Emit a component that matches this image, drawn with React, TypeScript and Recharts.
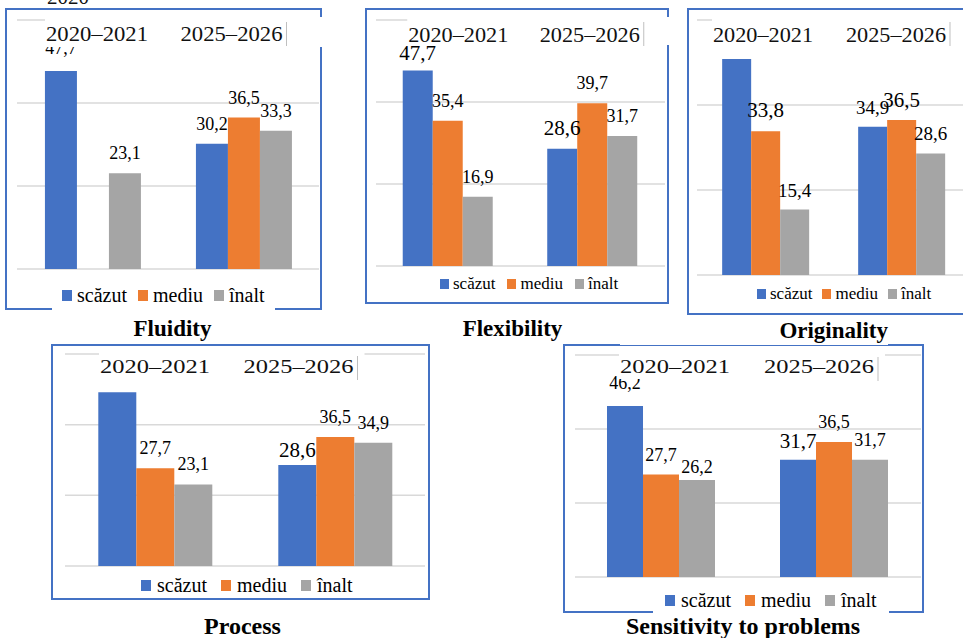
import React from 'react';
import { BarChart, Bar, XAxis, YAxis, CartesianGrid, LabelList, Legend } from 'recharts';

const categories = ['2020–2021', '2025–2026'];
const seriesNames = ['scăzut', 'mediu', 'înalt'];
const seriesKeys = ['scazut', 'mediu', 'inalt'];
const seriesColors = ['#4472C4', '#ED7D31', '#A5A5A5'];
const yTicks = [0, 20, 40, 60];

const fluidityScazut = [47.7, 30.2];
const fluidityMediu = [0, 36.5];
const fluidityInalt = [23.1, 33.3];

const flexibilityScazut = [47.7, 28.6];
const flexibilityMediu = [35.4, 39.7];
const flexibilityInalt = [16.9, 31.7];

const originalityScazut = [50.8, 34.9];
const originalityMediu = [33.8, 36.5];
const originalityInalt = [15.4, 28.6];

const processScazut = [49.2, 28.6];
const processMediu = [27.7, 36.5];
const processInalt = [23.1, 34.9];

const sensitivityScazut = [46.2, 31.7];
const sensitivityMediu = [27.7, 36.5];
const sensitivityInalt = [26.2, 31.7];

const FONT = 'Liberation Serif';
const M_TOP = 10;
const AX_H = 1;
const M_SIDE = 10;
const M_BOTTOM = 50;

function buildRows(s: number[], m: number[], i: number[]) {
  return categories.map((name, idx) => ({ name, scazut: s[idx], mediu: m[idx], inalt: i[idx] }));
}

const fmt = (v: number) => (v === 0 ? '0' : v.toFixed(1).replace('.', ','));

// label placement tweaks: keys are `${series}-${categoryIndex}`
const panels = [
  {
    title: 'Fluidity',
    rows: buildRows(fluidityScazut, fluidityMediu, fluidityInalt),
    plot: { l: 17, r: 319, t: 20, b: 269 },
    box: { l: 5, t: 8, w: 317, h: 302 },
    tickFont: 21, tickLen: 102, tickDy: 21, rectPad: 6, tickShift: [4.5, -12], coverRight: true,
    labelFont: 18, labelOffset: 14, big: [] as string[], offsets: { 'scazut-0': 17 } as Record<string, number>,
    hidden: [] as string[],
    legend: { l: 52, t: 283, h: 28, pad: 10, font: 20, sq: 10, sqGap: 5, gap: 11 },
    titleStyle: { left: 100, top: 315, width: 145, fontSize: 23 },
  },
  {
    title: 'Flexibility',
    rows: buildRows(flexibilityScazut, flexibilityMediu, flexibilityInalt),
    plot: { l: 376, r: 665, t: 20, b: 266 },
    box: { l: 365, t: 8, w: 304, h: 296 },
    tickFont: 21, tickLen: 100, tickDy: 22, rectPad: 3, tickShift: [10, -3], coverRight: true,
    labelFont: 18, labelOffset: 14, big: ['scazut-0', 'scazut-1'],
    offsets: { 'scazut-0': 10, 'scazut-1': 14 } as Record<string, number>,
    hidden: [] as string[],
    legend: { l: 438, t: 272, h: 22, pad: 2, font: 17, sq: 9, sqGap: 4, gap: 12 },
    titleStyle: { left: 440, top: 315, width: 145, fontSize: 23 },
  },
  {
    title: 'Originality',
    rows: buildRows(originalityScazut, originalityMediu, originalityInalt),
    plot: { l: 697, r: 969, t: 20, b: 275 },
    box: { l: 687, t: 8, w: 290, h: 307 },
    tickFont: 21, tickLen: 100, tickDy: 22, rectPad: 4, tickShift: [-2, -5], coverRight: true,
    labelFont: 19, labelOffset: 13, big: ['mediu-0', 'mediu-1'],
    offsets: { 'mediu-0': 14, 'mediu-1': 13 } as Record<string, number>,
    hidden: ['scazut-0'],
    legend: { l: 755, t: 282, h: 22, pad: 2, font: 17, sq: 9, sqGap: 4, gap: 10 },
    titleStyle: { left: 620, top: 317, width: 268, fontSize: 23, align: 'right' as const, bg: true },
  },
  {
    title: 'Process',
    rows: buildRows(processScazut, processMediu, processInalt),
    plot: { l: 65, r: 425, t: 354, b: 566 },
    box: { l: 51, t: 344, w: 379, h: 256 },
    tickFont: 19, tickLen: 110, tickDy: 19, rectPad: 4, tickShift: [0, -36.5], coverRight: false,
    labelFont: 18, labelOffset: 14, big: ['scazut-1'], offsets: { 'scazut-1': 8 } as Record<string, number>,
    hidden: ['scazut-0'],
    legend: { l: 139, t: 573, h: 24, pad: 2, font: 20, sq: 10, sqGap: 6, gap: 14 },
    titleStyle: { left: 160, top: 612, width: 165, fontSize: 24 },
  },
  {
    title: 'Sensitivity to problems',
    rows: buildRows(sensitivityScazut, sensitivityMediu, sensitivityInalt),
    plot: { l: 575, r: 921, t: 355, b: 577 },
    box: { l: 563, t: 344, w: 361, h: 269 },
    tickFont: 19, tickLen: 110, tickDy: 18, rectPad: 6, tickShift: [13.5, -15.5], coverRight: false,
    labelFont: 18, labelOffset: 14, big: ['scazut-1'],
    offsets: { 'scazut-0': 17, 'scazut-1': 12, 'inalt-0': 7 } as Record<string, number>,
    hidden: [] as string[],
    legend: { l: 653, t: 588, h: 26, pad: 12, font: 20, sq: 10, sqGap: 6, gap: 14 },
    titleStyle: { left: 600, top: 612, width: 286, fontSize: 24 },
  },
];

type Panel = (typeof panels)[number];

function makeTick(p: Panel) {
  return (props: any) => {
    const { x, index, payload } = props;
    const y0 = M_TOP + AX_H;
    const band = (p.plot.r - p.plot.l) / 2;
    const cx = Number(x) + p.tickShift[index];
    const half = p.tickLen / 2;
    const cursorX = cx + half + 4;
    const left = cx - half - 1;
    let right = Number(x) + band;
    if (index === 1) right = p.coverRight ? Number(x) + band / 2 + 4 : cursorX + 7;
    return (
      <g>
        <rect x={left} y={y0 - 3} width={right - left} height={p.tickDy + 3 + p.rectPad} fill="#FFFFFF" />
        <text
          x={cx}
          y={y0 + p.tickDy}
          textAnchor="middle"
          textLength={p.tickLen}
          lengthAdjust="spacingAndGlyphs"
          fontFamily={FONT}
          fontSize={p.tickFont}
          fill="#111111"
        >
          {payload.value}
        </text>
        {index === 1 && (
          <line x1={cursorX} x2={cursorX} y1={y0 + 2} y2={y0 + 26} stroke="#BFBFBF" strokeWidth={1} />
        )}
      </g>
    );
  };
}

function makeLabel(p: Panel, key: string) {
  return (props: any) => {
    const { x, y, width, value, index } = props;
    const id = `${key}-${index}`;
    if (p.hidden.includes(id)) return null;
    const big = p.big.includes(id);
    const off = p.offsets[id] ?? p.labelOffset;
    return (
      <text
        x={Number(x) + Number(width) / 2}
        y={Number(y) - off}
        textAnchor="middle"
        fontFamily={FONT}
        fontSize={big ? 21 : p.labelFont}
        fill="#000000"
      >
        {fmt(Number(value))}
      </text>
    );
  };
}

function makeLegend(p: Panel) {
  const lg = p.legend;
  return (props: any) => {
    const items = [...(props.payload || [])].sort(
      (a: any, b: any) => seriesNames.indexOf(a.value) - seriesNames.indexOf(b.value)
    );
    return (
      <div
        style={{
          height: lg.h,
          background: '#FFFFFF',
          paddingLeft: lg.pad,
          paddingRight: lg.pad,
          fontFamily: FONT,
          fontSize: lg.font,
          color: '#000000',
          whiteSpace: 'nowrap',
        }}
      >
        <div style={{ display: 'flex', alignItems: 'center', height: 24 }}>
          {items.map((e: any, i: number) => (
            <span
              key={`leg-${i}`}
              style={{ display: 'inline-flex', alignItems: 'center', marginRight: i < 2 ? lg.gap : 0 }}
            >
              <span style={{ display: 'inline-block', width: lg.sq, height: lg.sq + 1, background: e.color, marginRight: lg.sqGap }} />
              {e.value}
            </span>
          ))}
        </div>
      </div>
    );
  };
}

function PanelChart({ p }: { p: Panel }) {
  const plotW = p.plot.r - p.plot.l;
  const plotH = p.plot.b - p.plot.t;
  const chartLeft = p.plot.l - M_SIDE;
  const chartTop = p.plot.t - M_TOP - AX_H;
  return (
    <div style={{ position: 'absolute', left: chartLeft, top: chartTop }}>
      <BarChart
        width={plotW + 2 * M_SIDE}
        height={plotH + M_TOP + AX_H + M_BOTTOM}
        data={p.rows}
        margin={{ top: M_TOP, right: M_SIDE, bottom: M_BOTTOM, left: M_SIDE }}
        barCategoryGap="18.5%"
        barGap={0}
      >
        <CartesianGrid vertical={false} stroke="#D9D9D9" strokeWidth={1.5} />
        <YAxis hide type="number" domain={[0, 60]} ticks={yTicks} />
        {seriesKeys.map((k, i) => (
          <Bar key={k} dataKey={k} name={seriesNames[i]} fill={seriesColors[i]} isAnimationActive={false}>
            <LabelList dataKey={k} content={makeLabel(p, k)} />
          </Bar>
        ))}
        <XAxis
          dataKey="name"
          orientation="top"
          height={AX_H}
          tickSize={0}
          tickMargin={0}
          axisLine={false}
          tickLine={false}
          interval={0}
          tick={makeTick(p)}
        />
        <Legend
          layout="horizontal"
          verticalAlign="middle"
          align="center"
          content={makeLegend(p)}
          wrapperStyle={{
            left: p.legend.l - chartLeft,
            top: p.legend.t - chartTop,
            right: 'auto',
            bottom: 'auto',
            width: 'auto',
          }}
        />
      </BarChart>
    </div>
  );
}

export default function App() {
  return (
    <div
      style={{
        position: 'absolute',
        left: 0,
        top: 0,
        width: 963,
        height: 638,
        overflow: 'hidden',
        background: '#FFFFFF',
        fontFamily: FONT,
      }}
    >
      {panels.map((p) => (
        <div
          key={`box-${p.title}`}
          style={{
            position: 'absolute',
            left: p.box.l,
            top: p.box.t,
            width: p.box.w,
            height: p.box.h,
            boxSizing: 'border-box',
            border: '2px solid #4472C4',
          }}
        />
      ))}
      <div style={{ position: 'absolute', left: 47, top: -14, fontSize: 21, lineHeight: '22px', color: '#111', fontFamily: FONT }}>2020</div>
      {panels.map((p) => (
        <PanelChart key={`chart-${p.title}`} p={p} />
      ))}
      {panels.map((p) => (
        <div
          key={`title-${p.title}`}
          style={{
            position: 'absolute',
            left: p.titleStyle.left,
            top: p.titleStyle.top,
            width: p.titleStyle.width,
            height: 28,
            lineHeight: '28px',
            fontFamily: FONT,
            fontSize: p.titleStyle.fontSize,
            fontWeight: 700,
            textAlign: p.titleStyle.align || 'center',
            background: p.titleStyle.bg ? '#FFFFFF' : 'transparent',
            color: '#000000',
          }}
        >
          {p.title}
        </div>
      ))}
    </div>
  );
}
